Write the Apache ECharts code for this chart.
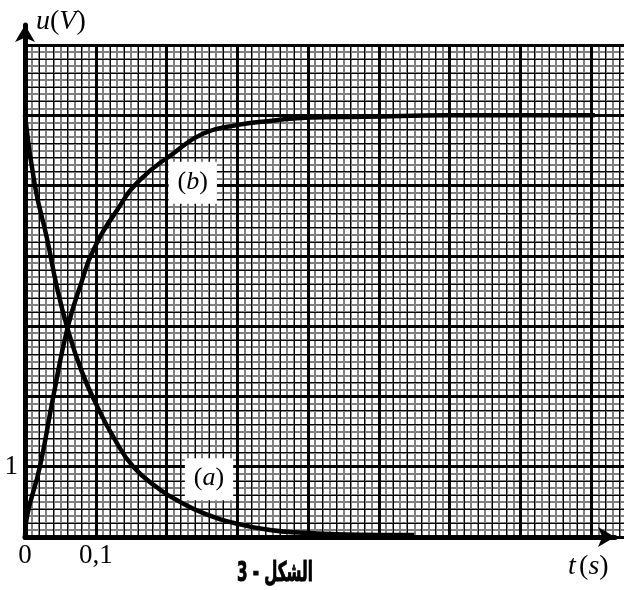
<!DOCTYPE html>
<html>
<head>
<meta charset="utf-8">
<script src="https://cdn.jsdelivr.net/npm/echarts@6/dist/echarts.min.js"></script>
<style>html,body{margin:0;padding:0;background:#fff}#c{width:624px;height:590px}</style>
</head>
<body>
<div id="c"></div>
<script>
// ---- data ----
const tA = [0, 0.014, 0.031, 0.045, 0.060, 0.080, 0.101, 0.125, 0.153, 0.19, 0.219, 0.252, 0.299, 0.346, 0.393, 0.44, 0.50, 0.55];
const uA = [6.0, 5.0, 4.25, 3.56, 2.97, 2.36, 1.88, 1.42, 1.0, 0.68, 0.5, 0.34, 0.19, 0.10, 0.06, 0.04, 0.03, 0.03];
const tB = [0, 0.003, 0.021, 0.040, 0.060, 0.080, 0.0965, 0.13, 0.1625, 0.21, 0.252, 0.299, 0.346, 0.403, 0.48, 0.60, 0.70, 0.805];
const uB = [0, 0.3, 1.0, 2.0, 2.97, 3.63, 4.08, 4.65, 5.08, 5.46, 5.74, 5.86, 5.92, 5.97, 5.98, 6.0, 6.0, 6.0];
const xLabelValues = [0, 0.1];
const xLabelTexts = ['0', '0,1'];
const yLabelValues = [1];
const yLabelTexts = ['1'];
const labelA = {t: 0.26, u: 0.82, text: 'a'};
const labelB = {t: 0.237, u: 5.04, text: 'b'};
const xAxisName = ['t', 's'];
const yAxisName = ['u', 'V'];
const figTitle = 'الشكل - 3';

const serif = 'Liberation Serif';
function pick(vals, texts) {
  return function (v) {
    for (let i = 0; i < vals.length; i++) if (Math.abs(v - vals[i]) < 1e-6) return texts[i];
    return '';
  };
}
const hidden = {axisLine:{show:false}, axisTick:{show:false}, axisLabel:{show:false}};
function gridAxis(extra, z, pos) {
  return Object.assign({type:'value', gridIndex:0, z:z, position:pos}, hidden, extra);
}
const xBase = {min:0, max:0.9, interval:0.1};
const yBase = {min:0, max:7, interval:1};

const xAxes = [
  gridAxis(Object.assign({}, xBase, {splitLine:{show:false}, minorTick:{show:false, splitNumber:10}, minorSplitLine:{show:true, lineStyle:{color:'#808080', width:2}}}), 0, 'bottom'),
  gridAxis(Object.assign({}, xBase, {splitLine:{show:false}, minorTick:{show:false, splitNumber:5}, minorSplitLine:{show:true, lineStyle:{color:'#000', width:1}}}), 1, 'bottom'),
  Object.assign({type:'value', gridIndex:0, z:2, position:'bottom'}, xBase, {
    axisLine:{show:false, onZero:false}, axisTick:{show:false},
    splitLine:{show:true, lineStyle:{color:'#000', width:3}},
    axisLabel:{show:true, formatter:pick(xLabelValues, xLabelTexts), fontFamily:serif, fontSize:27, color:'#000', margin:5, showMaxLabel:false}
  }),
  {type:'value', gridIndex:1, position:'bottom', min:0, max:1, z:3, splitLine:{show:false}, axisTick:{show:false}, axisLabel:{show:false},
   axisLine:{show:true, onZero:false, symbol:['none','arrow'], symbolSize:[15,17], lineStyle:{color:'#000', width:5}}}
];
const yAxes = [
  gridAxis(Object.assign({}, yBase, {splitLine:{show:false}, minorTick:{show:false, splitNumber:10}, minorSplitLine:{show:true, lineStyle:{color:'#808080', width:2}}}), 0, 'left'),
  gridAxis(Object.assign({}, yBase, {splitLine:{show:false}, minorTick:{show:false, splitNumber:5}, minorSplitLine:{show:true, lineStyle:{color:'#000', width:1}}}), 1, 'left'),
  Object.assign({type:'value', gridIndex:0, z:2, position:'left'}, yBase, {
    axisLine:{show:false, onZero:false}, axisTick:{show:false},
    splitLine:{show:true, lineStyle:{color:'#000', width:3}},
    axisLabel:{show:true, formatter:pick(yLabelValues, yLabelTexts), fontFamily:serif, fontSize:27, color:'#000', margin:7}
  }),
  {type:'value', gridIndex:1, position:'left', min:0, max:1, z:3, splitLine:{show:false}, axisTick:{show:false}, axisLabel:{show:false},
   axisLine:{show:true, onZero:false, symbol:['none','arrow'], symbolSize:[15,17], lineStyle:{color:'#000', width:5}}}
];

function pairs(ts, us) { return ts.map((t, i) => [t, us[i]]); }
function annot(l) {
  return {
    symbol:'rect', symbolSize:1, itemStyle:{color:'rgba(0,0,0,0)'},
    data:[{coord:[l.t, l.u], value:l.text}],
    label:{show:true, position:'inside', formatter:'{n|(}{i|' + l.text + '}{n|)}',
      backgroundColor:'#fff', padding:[7,9,9,9],
      rich:{n:{fontFamily:serif, fontSize:26, color:'#000'}, i:{fontFamily:serif, fontStyle:'italic', fontSize:26, color:'#000'}}}
  };
}
const lineStyle = {color:'#000', width:4.5};

const option = {
  animation:false,
  backgroundColor:'#fff',
  grid:[
    {left:25, top:45, width:637, height:492, containLabel:false, outerBoundsMode:'none'},
    {left:25, top:25, width:590, bottom:53, containLabel:false, outerBoundsMode:'none'}
  ],
  xAxis: xAxes,
  yAxis: yAxes,
  series:[
    {type:'line', xAxisIndex:2, yAxisIndex:2, z:10, data:pairs(tA, uA), showSymbol:false, smooth:0.5, lineStyle:lineStyle, markPoint:annot(labelA)},
    {type:'line', xAxisIndex:2, yAxisIndex:2, z:10, data:pairs(tB, uB), showSymbol:false, smooth:0.5, lineStyle:lineStyle, markPoint:annot(labelB)}
  ],
  graphic:[
    {type:'text', left:36, top:8, z:20, style:{text:'{i|' + yAxisName[0] + '}{n|(}{i|' + yAxisName[1] + '}{n|)}',
      rich:{n:{fontFamily:serif, fontSize:28, fill:'#000'}, i:{fontFamily:serif, fontStyle:'italic', fontSize:28, fill:'#000'}}}},
    {type:'text', left:568, top:553, z:20, style:{text:'{i|' + xAxisName[0] + '} {n|(}{i|' + xAxisName[1] + '}{n|)}',
      rich:{n:{fontFamily:serif, fontSize:28, fill:'#000'}, i:{fontFamily:serif, fontStyle:'italic', fontSize:28, fill:'#000'}}}},
    {type:'text', x:237, y:560, scaleX:0.56, z:20, style:{text:figTitle, font:'bold 27px "DejaVu Sans"', fill:'#000', stroke:'#000', lineWidth:1, textVerticalAlign:'top'}}
  ]
};
const chart = echarts.init(document.getElementById('c'), null, {renderer:'canvas'});
chart.setOption(option);
</script>
</body>
</html>
